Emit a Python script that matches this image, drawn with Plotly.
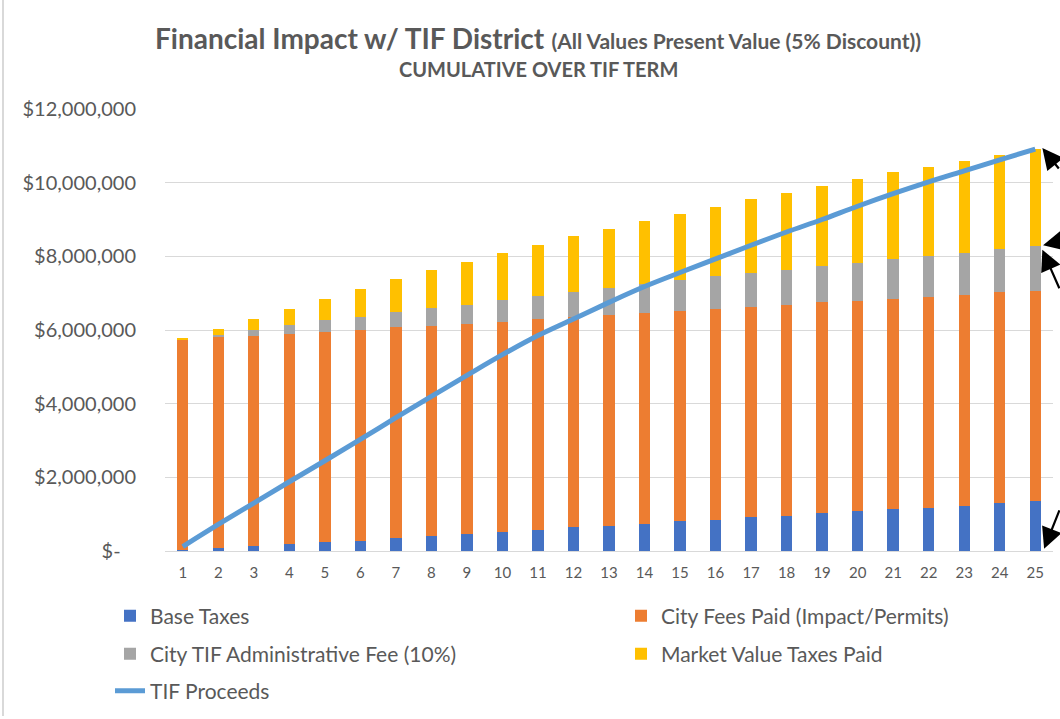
import plotly.graph_objects as go

years = list(range(1, 26))
base_taxes = [20000, 80000, 140000, 190000, 240000, 280000, 360000, 410000, 460000, 510000,
              580000, 640000, 690000, 740000, 810000, 850000, 910000, 960000, 1020000, 1080000,
              1130000, 1180000, 1230000, 1300000, 1350000]
city_fees = [5710000, 5730000, 5710000, 5710000, 5710000, 5720000, 5720000, 5710000, 5710000, 5710000,
             5710000, 5720000, 5710000, 5710000, 5710000, 5720000, 5720000, 5720000, 5730000, 5710000,
             5720000, 5720000, 5730000, 5720000, 5720000]
admin_fee = [10000, 50000, 150000, 230000, 310000, 350000, 400000, 470000, 520000, 590000,
             630000, 660000, 740000, 800000, 840000, 890000, 920000, 960000, 980000, 1040000,
             1080000, 1100000, 1140000, 1180000, 1210000]
market_taxes = [40000, 160000, 290000, 440000, 580000, 770000, 900000, 1030000, 1150000, 1280000,
                1390000, 1530000, 1610000, 1700000, 1800000, 1890000, 2000000, 2090000, 2190000, 2260000,
                2350000, 2420000, 2500000, 2540000, 2630000]
tif_proceeds = [120000, 720000, 1300000, 1880000, 2450000, 3030000, 3620000, 4200000, 4770000, 5330000,
                5850000, 6300000, 6750000, 7180000, 7560000, 7930000, 8300000, 8660000, 9000000, 9360000,
                9700000, 10020000, 10320000, 10620000, 10910000]

y_ticks = [0, 2000000, 4000000, 6000000, 8000000, 10000000, 12000000]
y_tick_text = ["$-" + "\u00a0" * 3, "$2,000,000", "$4,000,000", "$6,000,000",
               "$8,000,000", "$10,000,000", "$12,000,000"]

FONT = "Lato, 'Open Sans', sans-serif"
TXT = "#595959"

fig = go.Figure()
bar_specs = [
    ("Base Taxes", base_taxes, "#4472C4", "legend"),
    ("City Fees Paid (Impact/Permits)", city_fees, "#ED7D31", "legend2"),
    ("City TIF Administrative Fee (10%)", admin_fee, "#A5A5A5", "legend3"),
    ("Market Value Taxes Paid", market_taxes, "#FFC000", "legend4"),
]
for name, vals, col, lg in bar_specs:
    fig.add_trace(go.Bar(x=years, y=vals, name=name, marker=dict(color=col, line=dict(width=0)),
                         legend=lg))
fig.add_trace(go.Scatter(x=years, y=tif_proceeds, name="TIF Proceeds", mode="lines",
                         line=dict(color="#5B9BD5", width=5, shape="spline"), legend="legend5"))

def leg(x, y):
    return dict(x=x / 1060, y=1 - y / 719, xref="container", yref="container",
                xanchor="left", yanchor="middle", orientation="h",
                font=dict(family=FONT, size=21, color=TXT), bgcolor="rgba(0,0,0,0)")

fig.update_layout(
    width=1060, height=719,
    margin=dict(l=165, r=7, t=109, b=168),
    paper_bgcolor="white", plot_bgcolor="white",
    barmode="stack", bargap=0.68,
    font=dict(family=FONT, color=TXT),
    legend=leg(110, 616),
    legend2=leg(621, 616),
    legend3=leg(110, 654),
    legend4=leg(621, 654),
    legend5=leg(110, 691),
    xaxis=dict(range=[0.5, 25.5], tickvals=years, ticktext=[str(v) for v in years],
               showgrid=False, zeroline=False, showline=True, linecolor="#D9D9D9", linewidth=1,
               ticks="", tickfont=dict(family=FONT, size=15, color=TXT), ticklabelstandoff=8),
    yaxis=dict(range=[0, 12000000], tickvals=y_ticks, ticktext=y_tick_text,
               showgrid=True, gridcolor="#D9D9D9", gridwidth=1, zeroline=False, showline=False,
               ticks="", tickfont=dict(family=FONT, size=20, color=TXT), ticklabelstandoff=28),
    showlegend=True,
)

fig.add_annotation(xref="paper", yref="paper", x=(538 - 165) / 888, y=(551 - 38) / 442,
                   text="<b>Financial Impact w/ TIF District</b> <b><span style='font-size:21px'>(All Values Present Value (5% Discount))</span></b>",
                   showarrow=False, font=dict(family=FONT, size=28, color=TXT),
                   xanchor="center", yanchor="middle")
fig.add_annotation(xref="paper", yref="paper", x=(538 - 165) / 888, y=(551 - 69) / 442,
                   text="<b>CUMULATIVE OVER TIF TERM</b>",
                   showarrow=False, font=dict(family=FONT, size=20, color=TXT),
                   xanchor="center", yanchor="middle")

# Arrow callouts at the right edge
arrows = [
    (25.2, tif_proceeds[-1] + 30000, 30, 22),
    (25.22, base_taxes[-1] + city_fees[-1] + admin_fee[-1] + 20000, 34, -4),
    (25.2, base_taxes[-1] + city_fees[-1] + admin_fee[-1] - 100000, 24, 40),
    (25.25, 60000, 22, -40),
]
for ax_x, ax_y, dx, dy in arrows:
    fig.add_annotation(x=ax_x, y=ax_y, xref="x", yref="y", ax=dx, ay=dy, text="",
                       showarrow=True, arrowhead=2, arrowsize=1.9, arrowwidth=2.2,
                       arrowcolor="black")

# left chart border
fig.add_shape(type="line", xref="paper", yref="paper", x0=(3 - 165) / 888, x1=(3 - 165) / 888,
              y0=(551 - 716) / 442, y1=(551 - 0) / 442, line=dict(color="#D9D9D9", width=2))

fig.write_html("out.html", config={"displayModeBar": False},
               post_script="document.body.style.margin='0';")
